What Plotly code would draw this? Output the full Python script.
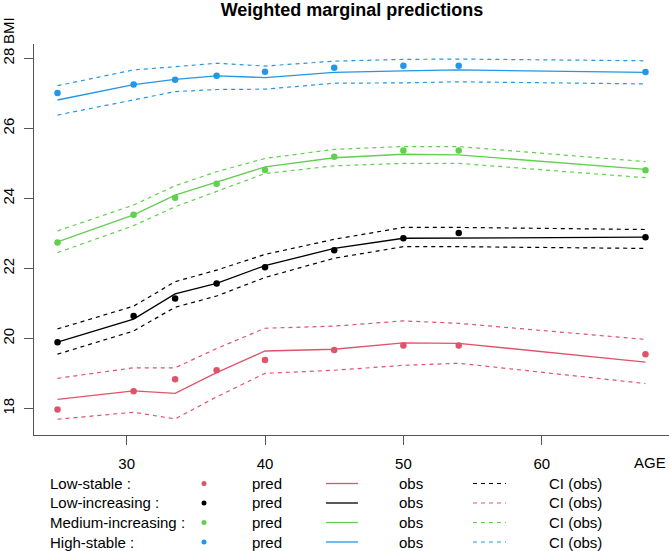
import plotly.graph_objects as go

# ---------------- data ----------------
ages = [25, 30.5, 33.5, 36.5, 40, 45, 50, 54, 67.5]

group_names = ["Low-stable", "Low-increasing", "Medium-increasing", "High-stable"]

low_stable_pred = [17.97, 18.49, 18.83, 19.09, 19.38, 19.67, 19.80, 19.80, 19.55]
low_stable_obs = [18.26, 18.50, 18.43, 19.02, 19.64, 19.69, 19.87, 19.86, 19.32]
low_stable_hi = [18.86, 19.16, 19.16, 19.71, 20.29, 20.35, 20.50, 20.43, 19.97]
low_stable_lo = [17.69, 17.89, 17.70, 18.33, 19.00, 19.09, 19.23, 19.29, 18.71]

low_incr_pred = [19.89, 20.64, 21.14, 21.57, 22.03, 22.52, 22.86, 23.01, 22.89]
low_incr_obs = [19.89, 20.55, 21.27, 21.57, 22.08, 22.57, 22.86, 22.87, 22.89]
low_incr_hi = [20.27, 20.92, 21.62, 21.95, 22.40, 22.83, 23.17, 23.17, 23.11]
low_incr_lo = [19.55, 20.21, 20.89, 21.21, 21.74, 22.29, 22.62, 22.62, 22.57]

med_incr_pred = [22.74, 23.53, 24.02, 24.42, 24.81, 25.19, 25.37, 25.37, 24.80]
med_incr_obs = [22.76, 23.53, 24.09, 24.46, 24.90, 25.16, 25.26, 25.24, 24.83]
med_incr_hi = [23.07, 23.81, 24.36, 24.76, 25.14, 25.40, 25.48, 25.48, 25.05]
med_incr_lo = [22.45, 23.22, 23.76, 24.19, 24.71, 24.93, 25.00, 25.00, 24.59]

high_stable_pred = [27.01, 27.25, 27.39, 27.50, 27.62, 27.73, 27.79, 27.79, 27.61]
high_stable_obs = [26.81, 27.25, 27.40, 27.50, 27.45, 27.60, 27.64, 27.67, 27.60]
high_stable_hi = [27.22, 27.67, 27.76, 27.86, 27.78, 27.92, 27.97, 27.98, 27.93]
high_stable_lo = [26.38, 26.81, 27.05, 27.11, 27.12, 27.29, 27.30, 27.33, 27.27]

x_ticks = [30, 40, 50, 60]
y_ticks = [18, 20, 22, 24, 26, 28]

colors = ["#DF536B", "#000000", "#61D04F", "#2297E6"]
legend_ci_colors = ["#000000", "#DF536B", "#61D04F", "#2297E6"]

groups = [
    (low_stable_pred, low_stable_obs, low_stable_hi, low_stable_lo),
    (low_incr_pred, low_incr_obs, low_incr_hi, low_incr_lo),
    (med_incr_pred, med_incr_obs, med_incr_hi, med_incr_lo),
    (high_stable_pred, high_stable_obs, high_stable_hi, high_stable_lo),
]

# ---------------- figure ----------------
W, H = 669, 551
L, R, T, B = 34, 0, 44, 116
PW, PH = W - L - R, H - T - B
FONT = "Liberation Sans, Arial, sans-serif"
AX = "#555555"

fig = go.Figure()
for (pred, obs, hi, lo), c, name in zip(groups, colors, group_names):
    for ci in (hi, lo):
        fig.add_trace(go.Scatter(x=ages, y=ci, mode="lines", showlegend=False,
                                 line=dict(color=c, width=1.2, dash="4px,4px"),
                                 name=name + " CI"))
    fig.add_trace(go.Scatter(x=ages, y=obs, mode="lines", showlegend=False,
                             line=dict(color=c, width=1.3), name=name + " obs"))
    fig.add_trace(go.Scatter(x=ages, y=pred, mode="markers", showlegend=False,
                             marker=dict(color=c, size=6.5), name=name + " pred",
                             cliponaxis=False))


def px2x(px):
    return (px - L) / PW


def py2y(py):
    return (H - B - py) / PH


shapes = []
annotations = []

# legend
row_y = [483.5, 503, 522.5, 542]
for i, (name, c, cic) in enumerate(zip(group_names, colors, legend_ci_colors)):
    y = row_y[i]
    annotations.append(dict(text=name + " :", x=px2x(48), y=py2y(y), xref="paper", yref="paper",
                            xanchor="left", yanchor="middle", showarrow=False,
                            font=dict(family=FONT, size=15, color="#000")))
    shapes.append(dict(type="circle", xref="paper", yref="paper",
                       x0=px2x(204 - 2.5), x1=px2x(204 + 2.5), y0=py2y(y + 2.5), y1=py2y(y - 2.5),
                       fillcolor=c, line=dict(width=0)))
    annotations.append(dict(text="pred", x=px2x(250), y=py2y(y), xref="paper", yref="paper",
                            xanchor="left", yanchor="middle", showarrow=False,
                            font=dict(family=FONT, size=15, color="#000")))
    shapes.append(dict(type="line", xref="paper", yref="paper",
                       x0=px2x(326), x1=px2x(358), y0=py2y(y), y1=py2y(y),
                       line=dict(color=c, width=1.3)))
    annotations.append(dict(text="obs", x=px2x(397), y=py2y(y), xref="paper", yref="paper",
                            xanchor="left", yanchor="middle", showarrow=False,
                            font=dict(family=FONT, size=15, color="#000")))
    shapes.append(dict(type="line", xref="paper", yref="paper",
                       x0=px2x(473), x1=px2x(506), y0=py2y(y), y1=py2y(y),
                       line=dict(color=cic, width=1.2, dash="4px,4px")))
    annotations.append(dict(text="CI (obs)", x=px2x(547), y=py2y(y), xref="paper", yref="paper",
                            xanchor="left", yanchor="middle", showarrow=False,
                            font=dict(family=FONT, size=15, color="#000")))

# axis names
annotations.append(dict(text="AGE", x=px2x(668), y=py2y(463), xref="paper", yref="paper",
                        xanchor="right", yanchor="middle", showarrow=False,
                        font=dict(family=FONT, size=15, color="#000")))
annotations.append(dict(text="BMI", x=px2x(9), y=py2y(31), xref="paper", yref="paper",
                        xanchor="center", yanchor="middle", showarrow=False, textangle=-90,
                        font=dict(family=FONT, size=15, color="#000")))

fig.update_layout(
    width=W, height=H,
    margin=dict(l=L, r=R, t=T, b=B, pad=0),
    paper_bgcolor="white", plot_bgcolor="white",
    title=dict(text="<b>Weighted marginal predictions</b>", x=px2x(352), xref="paper",
               y=1 - 10 / H, yref="container", xanchor="center", yanchor="middle",
               font=dict(family=FONT, size=18, color="#000")),
    shapes=shapes, annotations=annotations,
    showlegend=False,
    xaxis=dict(range=[23.3, 69.2], tickvals=x_ticks, ticktext=[str(v) for v in x_ticks],
               showgrid=False, zeroline=False, showline=True, linecolor=AX, linewidth=1.3,
               ticks="outside", ticklen=9, tickcolor=AX, tickwidth=1.2,
               ticklabelstandoff=6,
               tickfont=dict(family=FONT, size=15, color="#000"), automargin=False),
    yaxis=dict(range=[17.24, 28.41], tickvals=y_ticks, ticktext=[str(v) for v in y_ticks],
               showgrid=False, zeroline=False, showline=True, linecolor=AX, linewidth=1.3,
               ticks="outside", ticklen=9, tickcolor=AX, tickwidth=1.2, tickangle=-90,
               ticklabelstandoff=4,
               tickfont=dict(family=FONT, size=15, color="#000"), automargin=False),
)

fig.write_html("out.html", config={"displayModeBar": False},
               post_script="document.body.style.margin='0';document.body.style.overflow='hidden';")
